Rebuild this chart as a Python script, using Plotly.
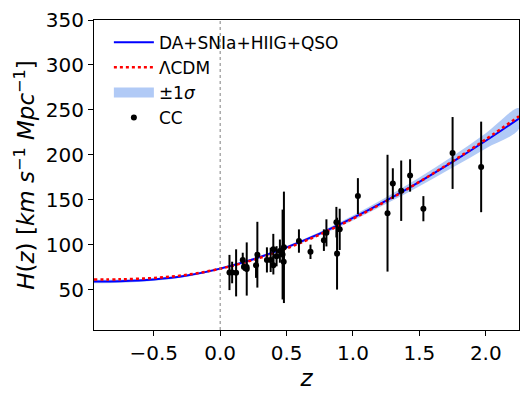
import plotly.graph_objects as go

# cosmic chronometer data (z, H, sigma_H)
cc_z = [0.07, 0.09, 0.12, 0.17, 0.179, 0.199, 0.2, 0.27, 0.28, 0.352,
        0.3802, 0.4, 0.4004, 0.4247, 0.4497, 0.47, 0.4783, 0.48, 0.593, 0.68,
        0.781, 0.8, 0.875, 0.88, 0.9, 1.037, 1.26, 1.3, 1.363, 1.43,
        1.53, 1.75, 1.965]
cc_H = [69, 69, 68.6, 83, 75, 75, 72.9, 77, 88.8, 83,
        83, 95, 77, 87.1, 92.8, 89, 80.9, 97, 104, 92,
        105, 113.1, 125, 90, 117, 154, 135, 168, 160, 177,
        140, 202, 186.5]
cc_err = [19.6, 12, 26.2, 8, 4, 5, 29.6, 14, 36.6, 14,
          13.5, 17, 10.2, 11.2, 12.9, 50, 9, 62, 13, 8,
          12, 15.1, 17, 40, 23, 20, 65, 17, 33.6, 18,
          14, 40, 50.4]

# model curves
z_model = [-0.95, -0.75, -0.5, -0.25, 0.0, 0.25, 0.5, 0.75, 1.0, 1.25, 1.5, 1.75, 2.0, 2.25]
H_fit = [59.0, 59.3, 61.2, 65.6, 73.3, 83.8, 96.9, 112.2, 129.7, 149.0, 169.9, 192.1, 215.6, 240.4]
H_lcdm = [61.2, 61.4, 62.9, 66.5, 73.2, 83.0, 95.8, 111.2, 128.9, 148.5, 169.9, 192.8, 217.2, 242.8]
H_sig = [2.0, 1.8, 1.5, 1.3, 1.2, 1.3, 1.6, 2.0, 2.7, 3.6, 4.8, 6.3, 8.5, 11.5]

upper = [h + s for h, s in zip(H_fit, H_sig)]
lower = [h - s for h, s in zip(H_fit, H_sig)]

band_color = 'rgba(100,149,237,0.5)'

fig = go.Figure()

# 1 sigma band (legend entry drawn by a dummy trace below)
fig.add_trace(go.Scatter(
    x=z_model + z_model[::-1],
    y=upper + lower[::-1],
    fill='toself', mode='none', line=dict(shape='spline'),
    fillcolor=band_color, showlegend=False, hoverinfo='skip'
))
fig.add_trace(go.Scatter(
    x=[None], y=[None], mode='lines',
    line=dict(color=band_color, width=12),
    name='±1<i>σ</i>', legendrank=3
))

fig.add_trace(go.Scatter(
    x=z_model, y=H_fit, mode='lines',
    line=dict(color='#0000ff', width=2, shape='spline'),
    name='DA+SNIa+HIIG+QSO', legendrank=1
))

fig.add_trace(go.Scatter(
    x=z_model, y=H_lcdm, mode='lines',
    line=dict(color='#ff0000', width=2.5, dash='dot', shape='spline'),
    name='ΛCDM', legendrank=2
))

fig.add_trace(go.Scatter(
    x=cc_z, y=cc_H, mode='markers',
    marker=dict(color='black', size=6),
    error_y=dict(type='data', array=cc_err, color='black', thickness=2, width=0),
    name='CC', legendrank=4
))

fig.add_vline(x=0, line=dict(color='gray', width=1, dash='dot'))

axis_style = dict(
    showline=True, mirror=True, linecolor='black', linewidth=1,
    ticks='outside', ticklen=5, tickcolor='black',
    showgrid=False, zeroline=False, automargin=False,
    tickfont=dict(size=20, color='black'),
)

fig.update_xaxes(
    range=[-0.95, 2.25], tickvals=[-0.5, 0.0, 0.5, 1.0, 1.5, 2.0],
    ticktext=['−0.5', '0.0', '0.5', '1.0', '1.5', '2.0'],
    title=dict(text='<i>z</i>', font=dict(size=23, color='black'), standoff=2),
    **axis_style
)
fig.update_yaxes(
    range=[5, 350], tickvals=[50, 100, 150, 200, 250, 300, 350],
    title=dict(text='<i>H</i>(<i>z</i>) [<i>km s</i><sup>−1</sup> <i>Mpc</i><sup>−1</sup>]',
               font=dict(size=23, color='black'), standoff=4),
    **axis_style
)

fig.update_layout(
    width=531, height=399,
    margin=dict(l=94, r=12, t=20, b=69),
    paper_bgcolor='white', plot_bgcolor='white',
    font=dict(family='DejaVu Sans', size=17, color='black'),
    legend=dict(x=0.035, y=0.985, xanchor='left', yanchor='top',
                bgcolor='rgba(255,255,255,0)', font=dict(size=17),
                tracegroupgap=0, itemwidth=40),
    showlegend=True
)

fig.write_html("out.html", config={'displayModeBar': False},
               post_script="document.body.style.margin='0';")
